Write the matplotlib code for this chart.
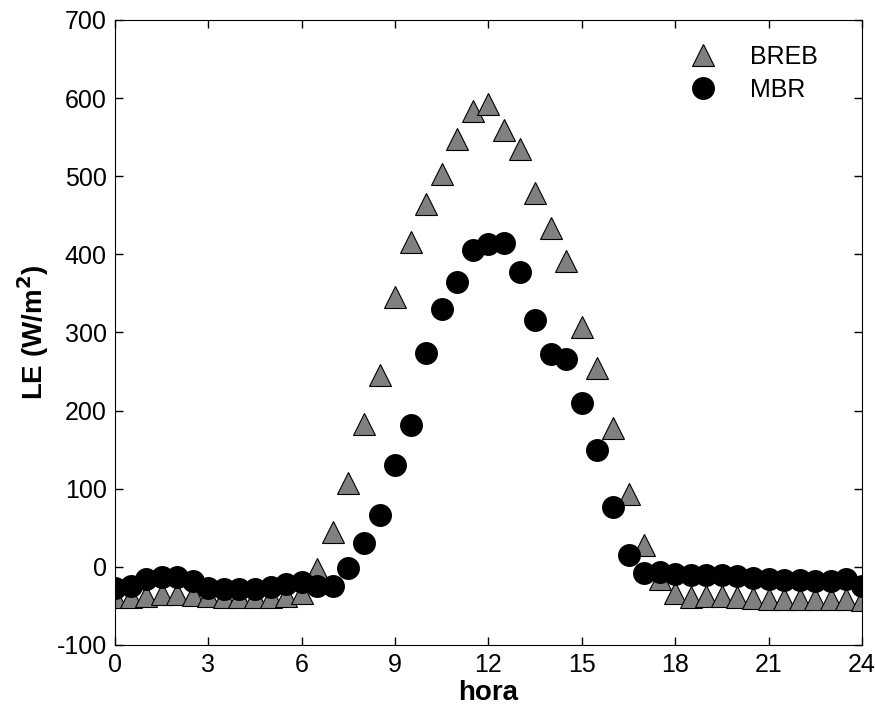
import numpy as np
import matplotlib
matplotlib.use('Agg')
import matplotlib.pyplot as plt

plt.rcParams['font.family'] = ['Liberation Sans', 'DejaVu Sans']
plt.rcParams['axes.unicode_minus'] = False

# half-hourly values over the day
hora = np.arange(0, 24.5, 0.5)

breb = [-38, -38, -37, -35, -35, -36, -37, -38, -38, -39, -38, -37, -33,
        -3, 45, 107, 183, 246, 345, 416, 465, 503, 547, 583, 593, 559,
        535, 479, 434, 391, 307, 254, 178, 93, 28, -15, -34, -38, -37,
        -37, -38, -40, -41, -41, -41, -41, -41, -41, -42]

mbr = [-27, -25, -16, -13, -13, -18, -27, -28, -28, -28, -26, -22, -20,
       -25, -24, -2, 31, 66, 130, 181, 274, 330, 365, 405, 413, 414,
       377, 316, 273, 266, 210, 149, 76, 15, -8, -6, -9, -10, -10,
       -11, -12, -14, -16, -17, -17, -18, -18, -16, -25]

xticks = [0, 3, 6, 9, 12, 15, 18, 21, 24]
yticks = [-100, 0, 100, 200, 300, 400, 500, 600, 700]

fig = plt.figure(figsize=(8.75, 7.18), dpi=100)
ax = fig.add_axes([0.1314, 0.1017, 0.8537, 0.8705])

ax.plot(hora, breb, linestyle='none', marker='^', markersize=16,
        markerfacecolor='#808080', markeredgecolor='black',
        markeredgewidth=0.8, label='BREB')
ax.plot(hora, mbr, linestyle='none', marker='o', markersize=15.5,
        markerfacecolor='black', markeredgecolor='black', label='MBR')

ax.set_xlim(0, 24)
ax.set_ylim(-100, 700)
ax.set_xticks(xticks)
ax.set_yticks(yticks)
ax.tick_params(direction='in', length=6, width=1, top=True, right=True,
               labelsize=18, pad=6)

ax.set_xlabel('hora', fontsize=20, fontweight='bold', labelpad=2)
ax.set_ylabel('LE (W/m$^\\mathbf{2}$)', fontsize=20, fontweight='bold', labelpad=4)

ax.legend(loc='upper right', frameon=False, fontsize=18, handletextpad=0.9,
          labelspacing=0.35, borderaxespad=0.6, bbox_to_anchor=(0.975, 1.0))

fig.savefig('out.png', dpi=100)
